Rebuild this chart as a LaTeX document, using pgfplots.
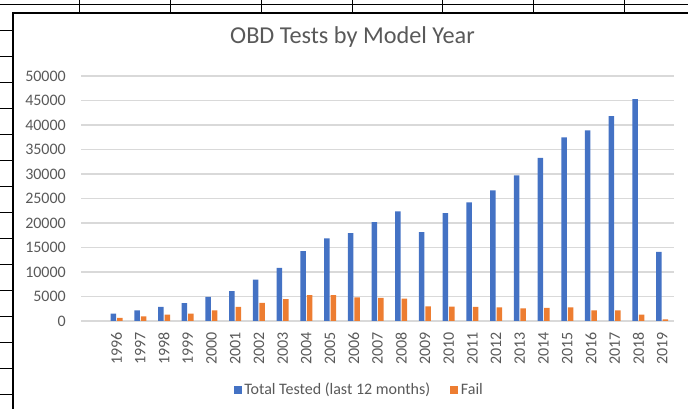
\documentclass[border=0pt]{standalone}
\usepackage{pgfplots}
\pgfplotsset{compat=1.18}
\usepackage{pgfplotstable}
\usepackage{fontspec}
\setmainfont{Carlito}
\definecolor{xlblue}{HTML}{4472C4}
\definecolor{xlorange}{HTML}{ED7D31}
\definecolor{xlgrid}{HTML}{D9D9D9}
\definecolor{xltext}{HTML}{595959}
\pgfplotstableread{
x year total fail
1 1996 1510 620
2 1997 2190 960
3 1998 2880 1300
4 1999 3630 1510
5 2000 4930 2190
6 2001 6100 2880
7 2002 8420 3700
8 2003 10820 4450
9 2004 14250 5270
10 2005 16850 5270
11 2006 17940 4840
12 2007 20190 4710
13 2008 22370 4570
14 2009 18140 3000
15 2010 22030 2930
16 2011 24220 2860
17 2012 26670 2800
18 2013 29740 2590
19 2014 33290 2660
20 2015 37450 2800
21 2016 38880 2180
22 2017 41810 2180
23 2018 45290 1300
24 2019 14120 340
}\datatable
\begin{document}
\begin{tikzpicture}
\useasboundingbox (0,0) rectangle (516pt,306.75pt);
% spreadsheet cell lines
\draw[line width=0.6pt] (0,303.75pt) -- (516pt,303.75pt);
\foreach \cx in {79,170,261.5,352,442,533.6,624} {
  \draw[line width=0.6pt] (\cx*0.75pt,306.75pt) -- (\cx*0.75pt,297pt);
}
\foreach \ry in {30,56,...,394} {
  \draw[line width=0.6pt] (0,{(409-\ry)*0.75pt}) -- (9.75pt,{(409-\ry)*0.75pt});
}
% chart frame
\draw[line width=1.1pt] (9.75pt,0) -- (9.75pt,297pt) -- (516pt,297pt);
\begin{axis}[
  at={(60.75pt,66pt)}, anchor=south west,
  scale only axis, width=444.75pt, height=183.75pt,
  ybar=0.75pt, bar width=0.232,
  xmin=-0.5, xmax=24.5, ymin=0, ymax=50000,
  xtick={1,...,24},
  xticklabels={1996,1997,1998,1999,2000,2001,2002,2003,2004,2005,2006,2007,2008,2009,2010,2011,2012,2013,2014,2015,2016,2017,2018,2019},
  ytick={0,5000,...,50000},
  scaled y ticks=false,
  /pgf/number format/1000 sep={},
  /pgf/number format/assume math mode=true,
  major tick length=0pt,
  axis lines*=left,
  x axis line style={draw=xlgrid, line width=0.9pt},
  y axis line style={draw=none},
  ymajorgrids,
  grid style={draw=xlgrid, line width=0.8pt},
  tick label style={font=\fontsize{12}{14}\selectfont, text=xltext, inner sep=0pt},
  xticklabel style={rotate=90, anchor=east},
  xticklabel shift=8.3pt,
  yticklabel style={anchor=east},
  yticklabel shift=11.2pt,
  title={OBD Tests by Model Year},
  title style={at={(axis description cs:0.4578,1.099)}, anchor=base, font=\fontsize{18.2}{22}\selectfont, text=xltext, inner sep=0pt},
  legend columns=2,
  legend style={draw=none, fill=none, inner sep=0pt, at={(axis description cs:0.4698,-0.2816)}, anchor=center,
    font=\fontsize{12}{14}\selectfont, text=xltext,
    /tikz/every even column/.append style={column sep=13pt}},
  legend image code/.code={\fill[#1] (0pt,-3pt) rectangle (6pt,3pt);},
]
\addplot[fill=xlblue, draw=none] table[x=x, y=total] {\datatable};
\addplot[fill=xlorange, draw=none] table[x=x, y=fail] {\datatable};
\legend{Total Tested (last 12 months), Fail}
\end{axis}
\end{tikzpicture}
\end{document}
